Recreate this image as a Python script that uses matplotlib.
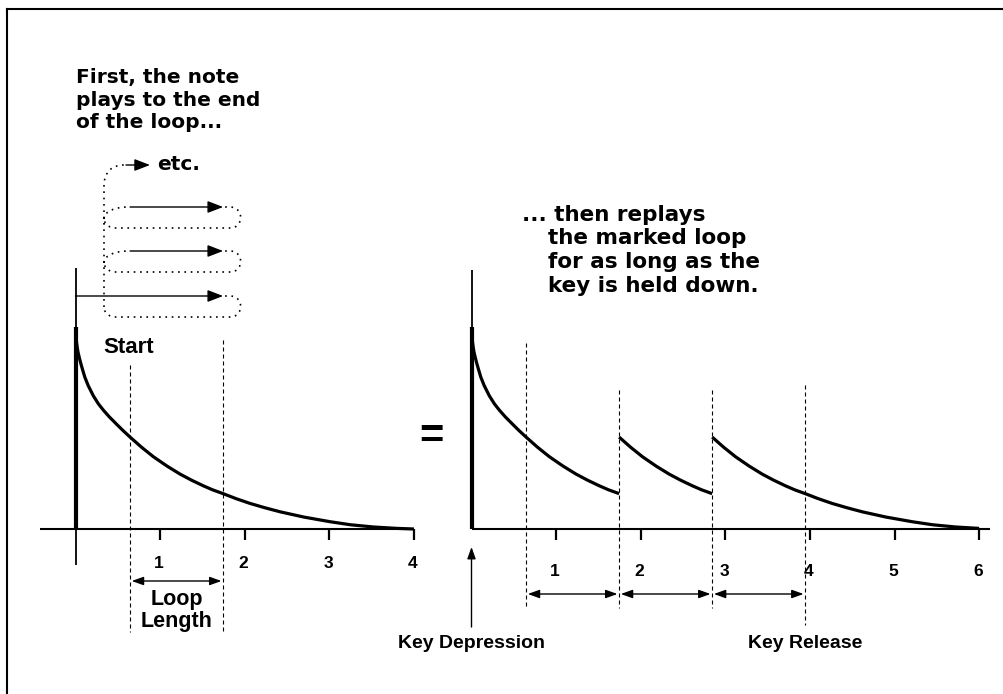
import numpy as np
import matplotlib
matplotlib.use("Agg")
import matplotlib.pyplot as plt
from matplotlib.lines import Line2D
from matplotlib.path import Path
from matplotlib.patches import PathPatch

# ---------------- data ----------------
decay_t = [0.0, 0.005, 0.012, 0.02, 0.03, 0.045, 0.065, 0.085, 0.11, 0.15, 0.21, 0.27,
           0.33, 0.40, 0.49, 0.56, 0.645, 0.78, 0.92, 1.08, 1.235, 1.37, 1.51, 1.62,
           1.745, 1.90, 2.06, 2.24, 2.42, 2.70, 3.01, 3.25, 3.52, 3.80, 4.0]
decay_a = [1.0, 0.96, 0.925, 0.90, 0.875, 0.848, 0.816, 0.787, 0.752, 0.71, 0.66, 0.62,
           0.588, 0.555, 0.517, 0.488, 0.455, 0.405, 0.358, 0.312, 0.272, 0.242, 0.214,
           0.194, 0.175, 0.150, 0.127, 0.105, 0.085, 0.059, 0.036, 0.021, 0.010, 0.003, 0.0]
loop_start = 0.645
loop_end = 1.745
left_ticks = [1, 2, 3, 4]
right_ticks = [1, 2, 3, 4, 5, 6]
left_xmax = 4.0
right_xmax = 6.0
text_first = ["First, the note", "plays to the end", "of the loop..."]
text_then = ["... then replays", "the marked loop", "for as long as the", "key is held down."]

# ---------------- layout (pixels) ----------------
W, H, DPI = 1004, 694, 100
X0L, X0R = 75.5, 471.5      # pixel x of t=0 in left / right chart
U = 84.6                    # pixels per time unit
Y0 = 529.0                  # pixel y of the baseline
A = 202.0                   # pixels per amplitude unit

fig = plt.figure(figsize=(W / DPI, H / DPI), dpi=DPI)
fig.patch.set_facecolor("white")


def make_ax(x0):
    ax = fig.add_axes([0, 0, 1, 1])
    ax.set_xlim(-x0 / U, (W - x0) / U)
    ax.set_ylim(-(H - Y0) / A, Y0 / A)
    ax.axis("off")
    ax.patch.set_alpha(0)
    return ax


axL = make_ax(X0L)
axR = make_ax(X0R)


def ay(py):
    """pixel y (from top) -> amplitude units"""
    return (Y0 - py) / A


def axpx(px, x0):
    return (px - x0) / U


FONT = "Liberation Sans"
SPACED = "DejaVu Sans"
K = "black"
dashed = (0, (3.6, 2.7))

# ---------------- frame lines ----------------
fig.add_artist(Line2D([7 / W, 7 / W], [0, 1 - 9 / H], transform=fig.transFigure, color=K, lw=1.5))
fig.add_artist(Line2D([7 / W, 1], [1 - 9 / H, 1 - 9 / H], transform=fig.transFigure, color=K, lw=1.5))

dt = np.array(decay_t)
da = np.array(decay_a)
loop_len = loop_end - loop_start


def draw_axes(ax, x_left, xmax, ticks, ytop, ybot, label_py):
    ax.plot([x_left, xmax], [0, 0], color=K, lw=1.5, solid_capstyle="butt")
    ax.plot([0, 0], [ay(ytop), ay(ybot)], color=K, lw=1.3, solid_capstyle="butt")
    ax.plot([0, 0], [0, decay_a[0]], color=K, lw=3.0, solid_capstyle="butt")
    for t in ticks:
        ax.plot([t, t], [0, ay(Y0 + 11)], color=K, lw=1.6, solid_capstyle="butt")
        ax.text(t - 0.015, ay(label_py), str(t), ha="center", va="center",
                fontsize=12.5, fontweight="bold", family=FONT, color=K)


# ---------------- left chart ----------------
draw_axes(axL, axpx(40, X0L), left_xmax, left_ticks, 268, 565, 564)
axL.plot(dt, da, color=K, lw=2.3, solid_capstyle="butt", solid_joinstyle="round")
axL.plot([loop_start] * 2, [ay(365), ay(632)], color=K, lw=0.8, ls=dashed)
axL.plot([loop_end] * 2, [ay(340), ay(632)], color=K, lw=0.8, ls=dashed)

axL.annotate("", xy=(loop_end - 0.02, ay(581)), xytext=(loop_start + 0.02, ay(581)),
             arrowprops=dict(arrowstyle="<|-|>,head_length=0.5,head_width=0.18",
                             mutation_scale=14, lw=1.0, color=K, shrinkA=0, shrinkB=0))
mid = (loop_start + loop_end) / 2
axL.text(mid, ay(600), "Loop", ha="center", va="center", fontsize=15.5,
         fontweight="bold", family=FONT)
axL.text(mid, ay(622), "Length", ha="center", va="center", fontsize=15.5,
         fontweight="bold", family=FONT)
axL.text(axpx(103, X0L), ay(353), "Start", ha="left", va="baseline", fontsize=16,
         fontweight="bold", family=FONT)

for i, s in enumerate(text_first):
    axL.text(axpx(76, X0L), ay(83 + 22.5 * i), s, ha="left", va="baseline",
             fontsize=14.5, fontweight="bold", family=SPACED)

# loop arrows
rows = [(296, 317), (251, 272), (207, 228)]
arrow_kw = dict(arrowstyle="-|>,head_length=0.65,head_width=0.25", mutation_scale=14.5,
                lw=1.0, color=K, shrinkA=0, shrinkB=0)
for k, (yt, yb) in enumerate(rows):
    x_from = 0.0 if k == 0 else loop_start
    axL.annotate("", xy=(loop_end, ay(yt)), xytext=(x_from, ay(yt)), arrowprops=arrow_kw)

# etc arrow
axL.annotate("", xy=(axpx(150, X0L), ay(165)), xytext=(axpx(126, X0L), ay(165)),
             arrowprops=arrow_kw)
axL.text(axpx(157, X0L), ay(165), "etc.", ha="left", va="center", fontsize=14.5,
         fontweight="bold", family=SPACED)

# dotted loop path (pixel geometry -> left data coords)
xle = X0L + loop_end * U
xls = X0L + loop_start * U
xv = 104.0
verts, codes = [], []


def P(px, py):
    return (axpx(px, X0L), ay(py))


def move(p):
    verts.append(P(*p)); codes.append(Path.MOVETO)


def line(p):
    verts.append(P(*p)); codes.append(Path.LINETO)


def cubic(c1, c2, p):
    verts.extend([P(*c1), P(*c2), P(*p)]); codes.extend([Path.CURVE4] * 3)


for k, (yt, yb) in enumerate(rows):
    r = (yb - yt) / 2
    xr = xle + 7
    move((xle + 2, yt))
    line((xr, yt))
    cubic((xr + 1.33 * r, yt), (xr + 1.33 * r, yb), (xr, yb))
    line((116, yb))
    cubic((109, yb), (xv, yb - 4), (xv, yb - 10))
    if k > 0:
        move((xv, yt + 12))
        cubic((xv, yt + 4), (xls - 14, yt), (xls - 2, yt))

move((xv, rows[0][1] - 10))
line((xv, 186))
cubic((xv, 172), (112, 165), (124, 165))

axL.add_patch(PathPatch(Path(verts, codes), fill=False, lw=1.2, ls=(0, (1, 2.8)),
                        edgecolor=K))

# "=" sign
fig.text(431 / W, 1 - 437 / H, "=", ha="center", va="center", fontsize=30,
         fontweight="bold", family=FONT)

# ---------------- right chart ----------------
draw_axes(axR, 0.0, right_xmax + 0.13, right_ticks, 270, 529, 571)

m1 = dt <= loop_end + 1e-9
axR.plot(dt[m1], da[m1], color=K, lw=2.3, solid_capstyle="butt")
m2 = (dt >= loop_start - 1e-9) & (dt <= loop_end + 1e-9)
axR.plot(dt[m2] + loop_len, da[m2], color=K, lw=2.3, solid_capstyle="butt")
m3 = (dt >= loop_start - 1e-9) & (dt + 2 * loop_len <= right_xmax + 1e-6)
axR.plot(dt[m3] + 2 * loop_len, da[m3], color=K, lw=2.3, solid_capstyle="butt")

marks = [loop_start, loop_end, loop_end + loop_len, loop_end + 2 * loop_len]
tops = [343, 390, 390, 385]
bots = [608, 608, 608, 625]
for x, t_, b_ in zip(marks, tops, bots):
    axR.plot([x, x], [ay(t_), ay(b_)], color=K, lw=0.8, ls=dashed)
for i in range(3):
    axR.annotate("", xy=(marks[i + 1] - 0.02, ay(594)), xytext=(marks[i] + 0.02, ay(594)),
                 arrowprops=dict(arrowstyle="<|-|>,head_length=0.5,head_width=0.18",
                                 mutation_scale=14, lw=1.0, color=K, shrinkA=0, shrinkB=0))

axR.annotate("", xy=(0, ay(547)), xytext=(0, ay(627)),
             arrowprops=dict(arrowstyle="-|>,head_length=0.5,head_width=0.18",
                             mutation_scale=14, lw=1.0, color=K, shrinkA=0, shrinkB=0))
axR.text(0, ay(648), "Key Depression", ha="center", va="baseline", fontsize=14,
         fontweight="bold", family=FONT)
axR.text(marks[3], ay(648), "Key Release", ha="center", va="baseline", fontsize=14,
         fontweight="bold", family=FONT)

for i, s in enumerate(text_then):
    x = 522 if i == 0 else 548
    axR.text(axpx(x, X0R), ay(221 + 23.5 * i), s, ha="left", va="baseline",
             fontsize=15.5, fontweight="bold", family=SPACED)

fig.savefig("out.png", dpi=DPI, facecolor="white")
